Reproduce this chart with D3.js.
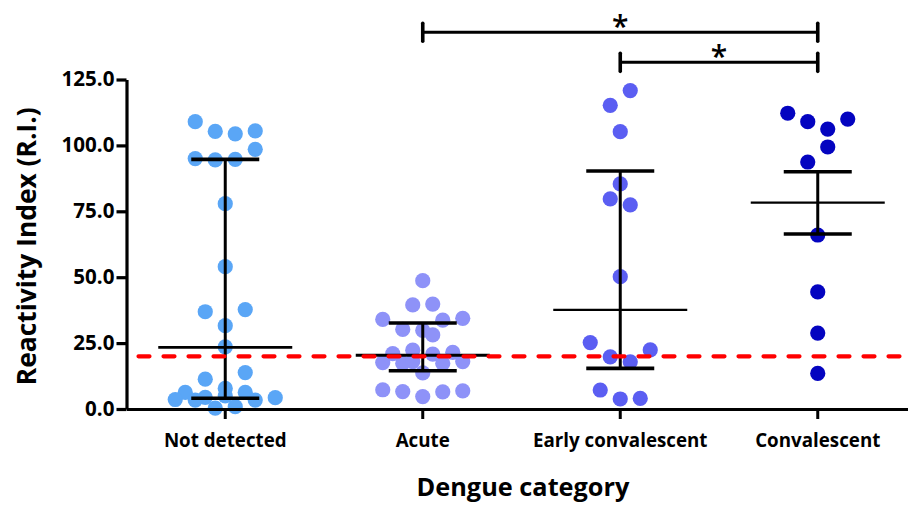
<!DOCTYPE html>
<html>
<head>
<meta charset="utf-8">
<script src="https://cdn.jsdelivr.net/npm/d3@7"></script>
<style>
  html, body { margin: 0; padding: 0; background: #fff; }
  svg { display: block; }
  text { font-family: "Open Sans", "DejaVu Sans", sans-serif; }
</style>
</head>
<body>
<svg id="chart" width="908" height="511"></svg>
<script>
// ---------------- data ----------------
const categories = ["Not detected", "Acute", "Early convalescent", "Convalescent"];

const notDetectedValues = [109.0, 105.3, 104.4, 105.5, 98.5, 95.0, 94.5, 94.7, 77.9, 54.0, 36.9, 37.7, 31.6, 23.6,
  13.8, 11.3, 7.8, 6.3, 6.3, 4.4, 5.0, 4.3, 3.6, 3.4, 3.4, 0.9, 0.3];
const notDetectedLanes  = [-3, -1, 1, 3, 3, -3, -1, 1, 0, 0, -2, 2, 0, 0,
  2, -2, 0, -4, 2, -2, 0, 5, -5, -3, 3, 1, -1];

const acuteValues = [48.7, 39.5, 39.8, 34.0, 33.7, 34.4, 30.2, 29.8, 28.1, 22.3, 21.0, 20.8, 21.5,
  17.6, 17.3, 18.0, 17.3, 18.0, 13.7, 7.3, 6.6, 4.7, 6.5, 6.9];
const acuteLanes  = [0, -1, 1, -4, 2, 4, -2, 0, 1, -1, -3, 1, 3,
  -4, -2, -1, 2, 4, 0, -4, -2, 0, 2, 4];

const earlyValues = [120.8, 115.2, 105.2, 85.4, 79.7, 77.4, 50.2, 25.2, 22.4, 19.8, 17.9, 7.2, 3.8, 4.0];
const earlyLanes  = [1, -1, 0, 0, -1, 1, 0, -3, 3, -1, 1, -2, 0, 2];

const convalescentValues = [112.2, 109.0, 106.2, 110.0, 99.4, 93.7, 66.0, 44.4, 28.8, 13.5];
const convalescentLanes  = [-3, -1, 1, 3, 1, -1, 0, 0, 0, 0];

const centerValues = [23.4, 20.4, 37.6, 78.3];
const lowerValues  = [4.1, 14.5, 15.4, 66.4];
const upperValues  = [94.7, 32.6, 90.3, 90.0];

const groupColors = ["#5aa6f6", "#8e92f8", "#5b5ef2", "#0404c0"];

const thresholdValue = 20;

const comparisons = [
  { from: "Acute", to: "Convalescent", level: 142.9, label: "*" },
  { from: "Early convalescent", to: "Convalescent", level: 131.5, label: "*" }
];

const yTickValues = [0, 25, 50, 75, 100, 125];
const yTitle = "Reactivity Index (R.I.)";
const xTitle = "Dengue category";

// ---------------- layout ----------------
const W = 908, H = 511;
const margin = { left: 126.5, top: 79.5, bottom: 102 };
const plotRight = 916.5;
const laneWidth = 10;
const dotR = 7.6;

const svg = d3.select("#chart");

const x = d3.scaleBand().domain(categories).range([margin.left, plotRight]).paddingInner(0).paddingOuter(0);
const xc = c => x(c) + x.bandwidth() / 2;
const y = d3.scaleLinear().domain([0, 125]).range([H - margin.bottom, margin.top]);

function fitSize(nodes, targets) {
  const base = 20;
  let sumW = 0, sumT = 0;
  nodes.forEach((n, i) => {
    n.style.fontSize = base + "px";
    sumW += n.getComputedTextLength();
    sumT += targets[i];
  });
  const size = base * sumT / sumW;
  nodes.forEach(n => n.style.fontSize = size + "px");
  return size;
}

// ---------------- points ----------------
const groups = [
  { cat: categories[0], values: notDetectedValues, lanes: notDetectedLanes },
  { cat: categories[1], values: acuteValues, lanes: acuteLanes },
  { cat: categories[2], values: earlyValues, lanes: earlyLanes },
  { cat: categories[3], values: convalescentValues, lanes: convalescentLanes }
];

const pointsG = svg.append("g");
groups.forEach((g, gi) => {
  pointsG.selectAll(null)
    .data(g.values.map((v, i) => ({ v, lane: g.lanes[i] })))
    .join("circle")
    .attr("cx", d => xc(g.cat) + d.lane * laneWidth)
    .attr("cy", d => y(d.v))
    .attr("r", dotR)
    .attr("fill", groupColors[gi]);
});

// ---------------- error bars ----------------
const barsG = svg.append("g").attr("stroke", "#000");
categories.forEach((c, i) => {
  const cx = xc(c);
  barsG.append("line").attr("x1", cx).attr("x2", cx)
    .attr("y1", y(lowerValues[i])).attr("y2", y(upperValues[i])).attr("stroke-width", 3);
  [lowerValues[i], upperValues[i]].forEach(v => {
    barsG.append("line").attr("x1", cx - 34).attr("x2", cx + 34)
      .attr("y1", y(v)).attr("y2", y(v)).attr("stroke-width", 3.6);
  });
  barsG.append("line").attr("x1", cx - 67).attr("x2", cx + 67)
    .attr("y1", y(centerValues[i])).attr("y2", y(centerValues[i])).attr("stroke-width", i < 2 ? 2.8 : 2.3);
});

// ---------------- axes ----------------
const yAxis = svg.append("g")
  .attr("transform", `translate(${margin.left},0)`)
  .call(d3.axisLeft(y).tickValues(yTickValues).tickFormat(d3.format(".1f")).tickSize(10).tickSizeOuter(0).tickPadding(2));
yAxis.select(".domain").attr("stroke", "#000").attr("stroke-width", 3.2);
yAxis.selectAll(".tick line").attr("stroke", "#000").attr("stroke-width", 3.2);
const yTickTexts = yAxis.selectAll(".tick text").attr("fill", "#000").attr("font-weight", "bold")
  .attr("dy", null).attr("y", 6).attr("x", -12).attr("font-family", "'Open Sans', sans-serif");
{
  const nodes = yTickTexts.nodes();
  const top = nodes.filter(n => n.textContent === "125.0");
  const base = 20;
  top[0].style.fontSize = base + "px";
  const s = base * 53 / top[0].getComputedTextLength();
  nodes.forEach(n => n.style.fontSize = s + "px");
}

const xAxis = svg.append("g")
  .attr("transform", `translate(0,${y(0)})`)
  .call(d3.axisBottom(x).tickSize(10).tickSizeOuter(0));
xAxis.select(".domain").attr("stroke", "#000").attr("stroke-width", 3.2);
xAxis.selectAll(".tick line").attr("stroke", "#000").attr("stroke-width", 3);
const xTickTexts = xAxis.selectAll(".tick text").attr("fill", "#000").attr("font-weight", "bold")
  .attr("dy", null).attr("y", 38).attr("font-family", "'Open Sans', sans-serif");
fitSize(xTickTexts.nodes(), [124, 54, 173, 125.7]);

// axis titles
const yt = svg.append("text")
  .attr("transform", `translate(36,${(y(0) + y(125)) / 2 + 2}) rotate(-90)`)
  .attr("text-anchor", "middle").attr("font-weight", "bold").attr("fill", "#000")
  .text(yTitle);
fitSize([yt.node()], [278]);

const xt = svg.append("text")
  .attr("x", (margin.left + plotRight) / 2 + 1.5).attr("y", 496)
  .attr("text-anchor", "middle").attr("font-weight", "bold").attr("fill", "#000")
  .text(xTitle);
fitSize([xt.node()], [213]);

// ---------------- significance brackets ----------------
const sigG = svg.append("g");
comparisons.forEach(cmp => {
  const x1 = xc(cmp.from), x2 = xc(cmp.to), yy = y(cmp.level);
  sigG.append("line").attr("x1", x1).attr("x2", x2).attr("y1", yy).attr("y2", yy)
    .attr("stroke", "#000").attr("stroke-width", 3);
  [x1, x2].forEach(xx => {
    sigG.append("line").attr("x1", xx).attr("x2", xx).attr("y1", yy - 9).attr("y2", yy + 9)
      .attr("stroke", "#000").attr("stroke-width", 3.6).attr("stroke-linecap", "round");
  });
  sigG.append("text").attr("x", (x1 + x2) / 2).attr("y", yy + 5)
    .attr("text-anchor", "middle").attr("font-size", 30).attr("font-weight", 600).attr("fill", "#000")
    .text(cmp.label);
});

// ---------------- threshold ----------------
svg.append("line")
  .attr("x1", margin.left + 12).attr("x2", W + 20)
  .attr("y1", y(thresholdValue)).attr("y2", y(thresholdValue))
  .attr("stroke", "#ff0000").attr("stroke-width", 4.2)
  .attr("stroke-linecap", "round")
  .attr("stroke-dasharray", "11,14");
</script>
</body>
</html>
